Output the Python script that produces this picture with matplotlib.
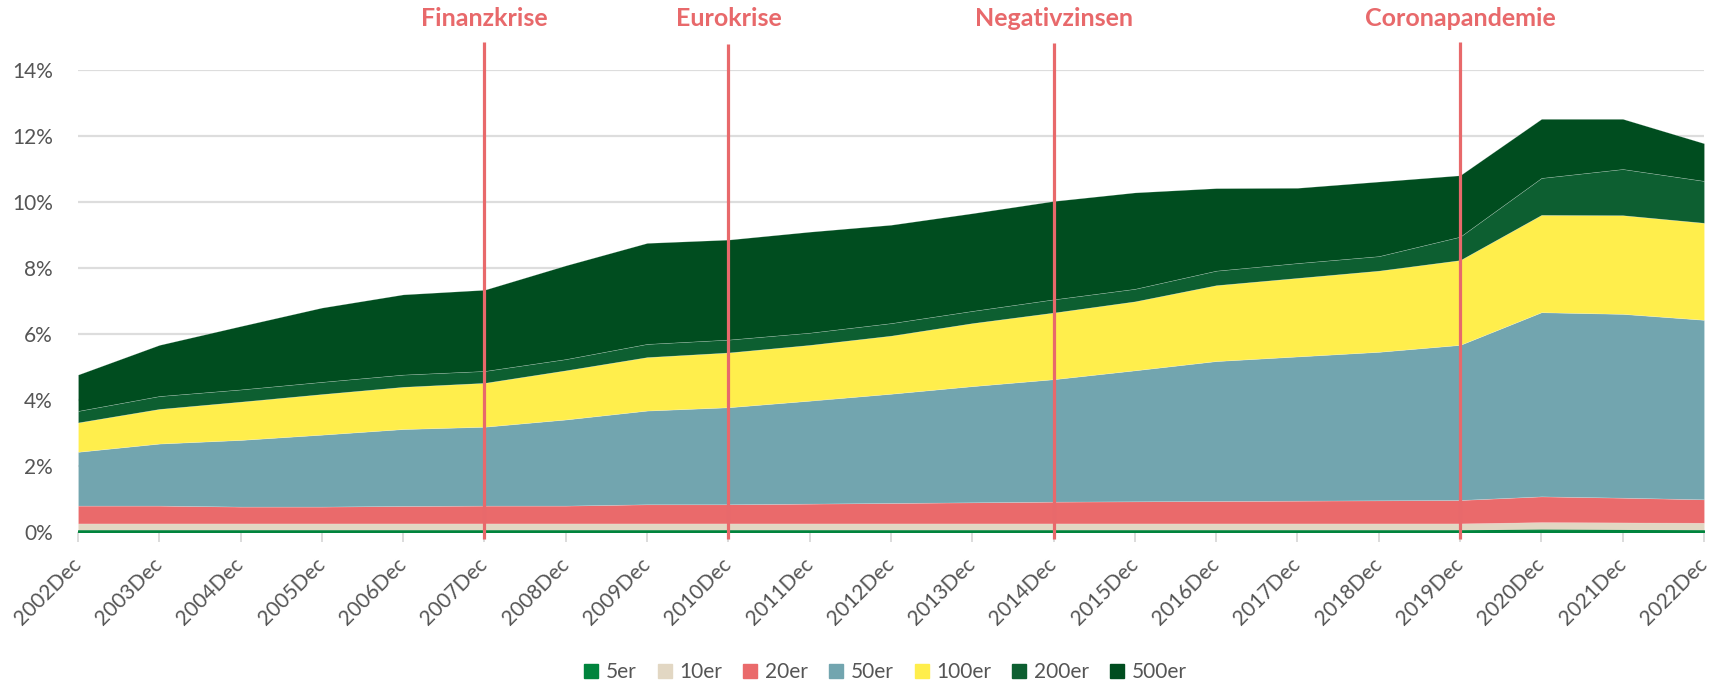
import matplotlib
matplotlib.use("Agg")
import matplotlib.pyplot as plt
from matplotlib.lines import Line2D
import numpy as np

plt.rcParams['font.family'] = ['Lato', 'DejaVu Sans']

years = [f"{y}Dec" for y in range(2002, 2023)]

s5 = [0.05, 0.05, 0.05, 0.05, 0.05, 0.05, 0.05, 0.05, 0.05, 0.05, 0.05,
      0.05, 0.05, 0.05, 0.05, 0.05, 0.05, 0.05, 0.07, 0.06, 0.05]
s10 = [0.21, 0.21, 0.21, 0.21, 0.21, 0.21, 0.21, 0.21, 0.21, 0.21, 0.21,
       0.21, 0.21, 0.21, 0.21, 0.21, 0.21, 0.21, 0.23, 0.23, 0.23]
s20 = [0.54, 0.54, 0.51, 0.51, 0.53, 0.54, 0.54, 0.58, 0.58, 0.60, 0.62,
       0.64, 0.66, 0.67, 0.68, 0.69, 0.70, 0.71, 0.78, 0.75, 0.71]
s50 = [1.63, 1.88, 2.02, 2.18, 2.33, 2.39, 2.61, 2.84, 2.94, 3.12, 3.31,
       3.52, 3.71, 3.97, 4.24, 4.37, 4.50, 4.70, 5.58, 5.57, 5.44]
s100 = [0.89, 1.05, 1.16, 1.23, 1.28, 1.33, 1.49, 1.62, 1.66, 1.69, 1.76,
        1.91, 2.02, 2.09, 2.30, 2.38, 2.46, 2.57, 2.95, 2.99, 2.94]
s200 = [0.35, 0.39, 0.37, 0.37, 0.37, 0.36, 0.34, 0.40, 0.39, 0.37, 0.38,
        0.37, 0.40, 0.38, 0.44, 0.45, 0.44, 0.71, 1.12, 1.40, 1.27]
s500 = [1.10, 1.55, 1.92, 2.25, 2.43, 2.46, 2.84, 3.06, 3.03, 3.06, 2.98,
        2.96, 2.98, 2.92, 2.50, 2.28, 2.26, 1.86, 1.79, 1.52, 1.14]

series_names = ["5er", "10er", "20er", "50er", "100er", "200er", "500er"]
colors = ["#00843D", "#E2D7C3", "#EA6A6B", "#72A5AF", "#FFEE4C", "#0D5F31", "#004D1F"]

events = ["Finanzkrise", "Eurokrise", "Negativzinsen", "Coronapandemie"]
event_years = ["2007Dec", "2010Dec", "2014Dec", "2019Dec"]

yticks = [0, 2, 4, 6, 8, 10, 12, 14]

fig = plt.figure(figsize=(17.23, 6.85), dpi=100)
ax = fig.add_axes([0.04527, 0.22336, 0.98897 - 0.04527, 0.89781 - 0.22336])

x = np.arange(len(years))
polys = ax.stackplot(x, s5, s10, s20, s50, s100, s200, s500, colors=colors,
                     edgecolor=(1, 1, 1, 0.3), linewidth=0.4, zorder=2)
polys[1].set_linewidth(0)
polys[0].set_edgecolor(colors[0])
polys[0].set_linewidth(0.8)
polys[0].set_zorder(3)

ax.set_xlim(0, len(years) - 1)
ax.set_ylim(0, 14)
ax.set_yticks(yticks)
ax.set_yticklabels([f"{v}%" for v in yticks])
ax.set_xticks(x)
ax.set_xticklabels(years, rotation=45, ha="right", va="center",
                   rotation_mode="anchor")

for s in ax.spines.values():
    s.set_visible(False)
ax.grid(axis="y", color="#dddddd", linewidth=1.6, zorder=0)
ax.set_axisbelow(True)
ax.tick_params(axis="y", length=0, pad=18, labelsize=15, labelcolor="#555555")
ax.tick_params(axis="x", length=7, width=1.3, color="#d9d9d9", pad=14,
               labelsize=15, labelcolor="#555555")

ann_color = "#E8696B"
tops = [14.85, 14.79, 14.81, 14.85]
for name, yr, top in zip(events, event_years, tops):
    xi = years.index(yr)
    ax.plot([xi, xi], [-0.2, top], color=ann_color, lw=2.3, zorder=5,
            clip_on=False, solid_capstyle="butt")
    ax.text(xi, 15.56, name, color=ann_color, fontsize=18,
            fontweight="bold", ha="center", va="center", clip_on=False)

handles = [Line2D([0], [0], marker="s", linestyle="none", markersize=10.5,
                  markerfacecolor=c, markeredgecolor=c) for c in colors]
leg = fig.legend(handles, series_names, loc="center", bbox_to_anchor=(0.5135, 0.0185),
                 ncol=7, frameon=False, fontsize=15, handlelength=0.8,
                 handletextpad=0.3, columnspacing=0.95, labelcolor="#555555")

fig.savefig("out.png", dpi=100)
